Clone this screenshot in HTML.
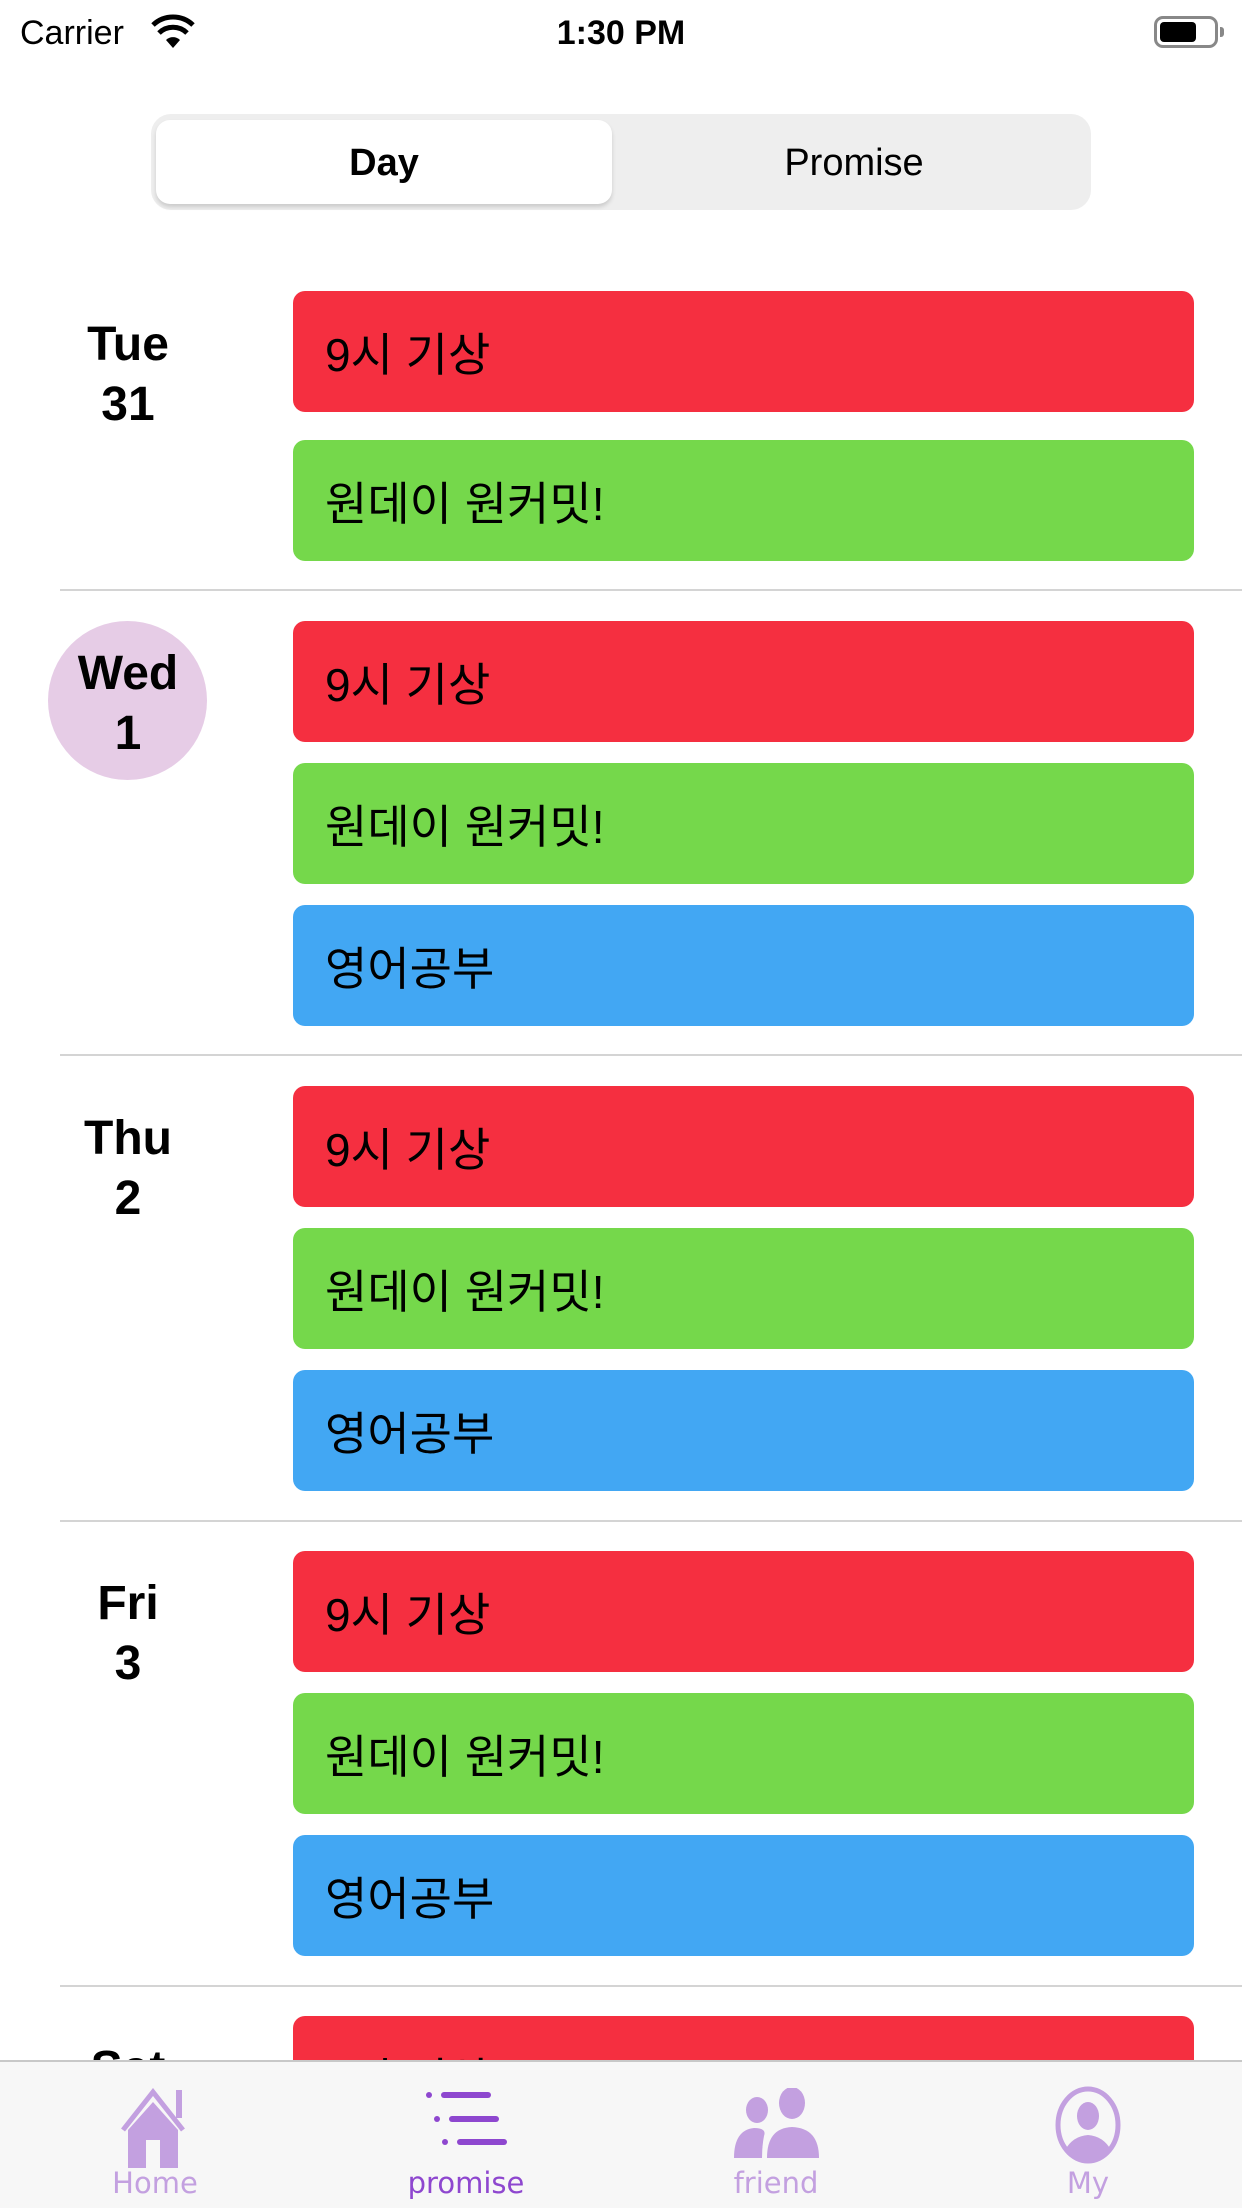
<!DOCTYPE html>
<html><head><meta charset="utf-8">
<style>
*{margin:0;padding:0;box-sizing:border-box}
body{width:1242px;height:2208px;position:relative;background:#fff;overflow:hidden;font-family:"Liberation Sans","Noto Sans CJK KR",sans-serif}
.abs{position:absolute}
.card{position:absolute;left:293px;width:901px;height:121px;border-radius:12px;font-size:46px;line-height:129px;padding-left:32px;color:#000}
.red{background:#F52F40}.green{background:#75D84B}.blue{background:#42A7F3}
.sep{position:absolute;left:60px;right:0;height:2px;background:#d4d4d4}
.day{position:absolute;left:28px;width:200px;text-align:center;font-weight:bold;font-size:48px;line-height:60px;color:#000}
.tab{position:absolute;top:2060px;width:310px;text-align:center}
.tab .lbl{position:absolute;top:106px;width:100%;font-size:29px;color:#C3A0E0;font-family:"DejaVu Sans",sans-serif}
</style></head><body>
<div class="abs" style="left:20px;top:14px;font-size:34px">Carrier</div>
<svg class="abs" style="left:150px;top:14px" width="46" height="34" viewBox="0 0 46 34"><path d="M23 34 L16 26 A10 10 0 0 1 30 26Z" fill="#000"/><path d="M9 19 A20 20 0 0 1 37 19" stroke="#000" stroke-width="5" fill="none"/><path d="M3 11 A29 29 0 0 1 43 11" stroke="#000" stroke-width="5" fill="none"/></svg>
<div class="abs" style="left:0;width:1242px;top:14px;text-align:center;font-size:34px;font-weight:bold">1:30 PM</div>
<div class="abs" style="left:1154px;top:16px;width:64px;height:32px;border:3px solid #888;border-radius:9px"><div style="position:absolute;left:3px;top:3px;width:36px;height:20px;background:#000;border-radius:4px"></div><div style="position:absolute;right:-9px;top:8px;width:4px;height:10px;background:#888;border-radius:0 3px 3px 0"></div></div>

<div class="abs" style="left:151px;top:114px;width:940px;height:96px;background:#EEEEEE;border-radius:20px"></div>
<div class="abs" style="left:156px;top:120px;width:456px;height:84px;background:#fff;border-radius:14px;box-shadow:0 3px 4px rgba(0,0,0,0.15);text-align:center;line-height:86px;font-size:38px;font-weight:bold">Day</div>
<div class="abs" style="left:620px;top:120px;width:468px;height:84px;text-align:center;line-height:86px;font-size:38px">Promise</div>

<div class="day" style="top:315px">Tue<br>31</div>
<div class="card red" style="top:291px">9시 기상</div>
<div class="card green" style="top:440px">원데이 원커밋!</div>
<div class="sep" style="top:589px"></div>

<div class="abs" style="left:48px;top:621px;width:159px;height:159px;border-radius:50%;background:#E6CCE6"></div>
<div class="day" style="top:644px">Wed<br>1</div>
<div class="card red" style="top:621px">9시 기상</div>
<div class="card green" style="top:763px">원데이 원커밋!</div>
<div class="card blue" style="top:905px">영어공부</div>
<div class="sep" style="top:1054px"></div>

<div class="day" style="top:1109px">Thu<br>2</div>
<div class="card red" style="top:1086px">9시 기상</div>
<div class="card green" style="top:1228px">원데이 원커밋!</div>
<div class="card blue" style="top:1370px">영어공부</div>
<div class="sep" style="top:1520px"></div>

<div class="day" style="top:1574px">Fri<br>3</div>
<div class="card red" style="top:1551px">9시 기상</div>
<div class="card green" style="top:1693px">원데이 원커밋!</div>
<div class="card blue" style="top:1835px">영어공부</div>
<div class="sep" style="top:1985px"></div>

<div class="day" style="top:2039px">Sat</div>
<div class="card red" style="top:2016px">9시 기상</div>

<div class="abs" style="left:0;top:2060px;width:1242px;height:148px;background:#F7F7F7;border-top:2px solid #c8c8c8"></div>
<div class="tab" style="left:0">
<svg class="abs" style="left:117px;top:28px" width="76" height="84" viewBox="0 0 76 84"><path d="M6 42 L36 4 L66 42" stroke="#C3A0E0" stroke-width="5" fill="none"/><rect x="59" y="2" width="6" height="28" fill="#C3A0E0"/><path d="M11 42 L36 14 L61 42 V80 H43 V52 H29 V80 H11Z" fill="#C3A0E0"/></svg>
<div class="lbl">Home</div></div>
<div class="tab" style="left:311px">
<svg class="abs" style="left:115px;top:30px" width="84" height="60" viewBox="0 0 84 60"><g fill="#8E47CF"><circle cx="3" cy="5" r="3"/><rect x="15" y="2" width="50" height="6" rx="3"/><circle cx="11" cy="29" r="3"/><rect x="23" y="26" width="50" height="6" rx="3"/><circle cx="19" cy="52" r="3"/><rect x="31" y="49" width="50" height="6" rx="3"/></g></svg>
<div class="lbl" style="color:#8E47CF">promise</div></div>
<div class="tab" style="left:621px">
<svg class="abs" style="left:111px;top:28px" width="90" height="72" viewBox="0 0 90 72"><g fill="#C3A0E0"><ellipse cx="25" cy="22" rx="11" ry="13"/><ellipse cx="60" cy="15" rx="13" ry="16"/><path d="M2 70 Q2 42 22 40 Q35 40 32 48 Q30 58 30 70Z"/><path d="M35 70 Q35 40 60 39 Q87 40 87 70Z"/></g></svg>
<div class="lbl">friend</div></div>
<div class="tab" style="left:933px">
<svg class="abs" style="left:120px;top:26px" width="70" height="80" viewBox="0 0 70 80"><ellipse cx="35" cy="39" rx="30" ry="36" fill="none" stroke="#C3A0E0" stroke-width="5"/><ellipse cx="35" cy="30" rx="11" ry="14" fill="#C3A0E0"/><path d="M12 64 Q20 50 35 49 Q50 50 58 64 Q48 75 35 75 Q22 75 12 64Z" fill="#C3A0E0"/></svg>
<div class="lbl">My</div></div>
</body></html>
